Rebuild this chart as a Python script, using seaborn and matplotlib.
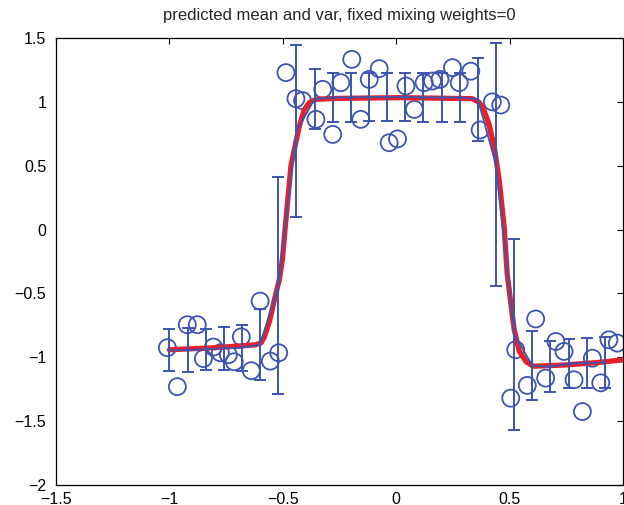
import numpy as np
import pandas as pd
import matplotlib
matplotlib.use("Agg")
import matplotlib.pyplot as plt
import seaborn as sns

# Training observations
obs_x = [-1.009, -0.965, -0.921, -0.877, -0.850, -0.806, -0.775, -0.740, -0.714,
         -0.683, -0.639, -0.600, -0.555, -0.518, -0.486, -0.442, -0.413, -0.354,
         -0.324, -0.280, -0.244, -0.196, -0.156, -0.119, -0.075, -0.031, 0.006,
         0.043, 0.080, 0.123, 0.160, 0.193, 0.248, 0.278, 0.329, 0.370, 0.424,
         0.461, 0.505, 0.527, 0.578, 0.615, 0.659, 0.704, 0.740, 0.784, 0.821,
         0.865, 0.902, 0.938, 0.975]
obs_y = [-0.925, -1.230, -0.745, -0.745, -1.010, -0.920, -0.965, -0.980, -1.035,
         -0.840, -1.105, -0.560, -1.030, -0.965, 1.229, 1.025, 1.010, 0.863,
         1.098, 0.745, 1.150, 1.333, 0.863, 1.176, 1.260, 0.680, 0.710,
         1.124, 0.941, 1.150, 1.163, 1.176, 1.268, 1.150, 1.240, 0.780, 1.000,
         0.975, -1.320, -0.941, -1.220, -0.700, -1.163, -0.876, -0.954, -1.176, -1.425,
         -1.007, -1.200, -0.863, -0.889]

# Smooth fitted curve
fit_x = [-1.00, -0.80, -0.618, -0.595, -0.581, -0.559, -0.537, -0.515, -0.502,
         -0.485, -0.464, -0.449, -0.427, -0.405, -0.383, -0.352, -0.264, 0.013,
         0.335, 0.366, 0.388, 0.410, 0.432, 0.454, 0.476, 0.489, 0.507, 0.520,
         0.542, 0.573, 0.604, 0.749, 0.894, 1.00]
fit_y = [-0.941, -0.925, -0.902, -0.886, -0.839, -0.720, -0.550, -0.390, -0.235,
         0.100, 0.500, 0.630, 0.810, 0.940, 0.995, 1.020, 1.027, 1.033,
         1.025, 0.996, 0.930, 0.820, 0.650, 0.390, 0.020, -0.340, -0.600, -0.780,
         -0.950, -1.035, -1.070, -1.060, -1.040, -1.020]

# Predicted mean and spread at test inputs
test_x = [-1.00, -0.92, -0.84, -0.76, -0.68, -0.60, -0.52, -0.44, -0.36, -0.28,
          -0.20, -0.12, -0.04, 0.04, 0.12, 0.20, 0.28, 0.36, 0.44, 0.52,
          0.60, 0.68, 0.76, 0.84, 0.92]
pred_mean = [-0.945, -0.944, -0.938, -0.930, -0.925, -0.900, -0.440, 0.770, 1.022, 1.035,
             1.035, 1.038, 1.038, 1.038, 1.036, 1.035, 1.035, 1.020, 0.507, -0.820,
             -1.065, -1.075, -1.050, -1.045, -1.040]
pred_err = [0.163, 0.173, 0.160, 0.167, 0.180, 0.280, 0.850, 0.675, 0.238, 0.190,
            0.190, 0.190, 0.190, 0.190, 0.190, 0.190, 0.190, 0.327, 0.950, 0.750,
            0.270, 0.200, 0.190, 0.196, 0.200]

x_ticks = [-1.5, -1, -0.5, 0, 0.5, 1]
y_ticks = [-2, -1.5, -1, -0.5, 0, 0.5, 1, 1.5]
x_labels = ["\u22121.5", "\u22121", "\u22120.5", "0", "0.5", "1"]
y_labels = ["\u22122", "\u22121.5", "\u22121", "\u22120.5", "0", "0.5", "1", "1.5"]

sns.set_style("white")
plt.rcParams["font.family"] = ["Liberation Sans", "DejaVu Sans"]

blue = "#3d55ad"
red = "#e8202a"

fig = plt.figure(figsize=(6.24, 5.05), dpi=100)
ax = fig.add_axes([56 / 624, 1 - 485 / 505, (623 - 56) / 624, (485 - 38) / 505])

obs = pd.DataFrame({"x": obs_x, "y": obs_y})
fit = pd.DataFrame({"x": fit_x, "y": fit_y})
pred = pd.DataFrame({"x": test_x, "y": pred_mean})

sns.scatterplot(data=obs, x="x", y="y", ax=ax, marker="o", s=150,
                facecolor="none", edgecolor=blue, linewidth=1.3, zorder=2)
sns.lineplot(data=fit, x="x", y="y", ax=ax, color=red, linewidth=3.8,
             sort=False, estimator=None, zorder=3)
ax.errorbar(test_x, pred_mean, yerr=pred_err, fmt="none", ecolor=blue,
            elinewidth=1.4, capsize=4.3, capthick=1.4, zorder=4)
sns.lineplot(data=pred, x="x", y="y", ax=ax, color=blue, linewidth=1.3,
             sort=False, estimator=None, zorder=5)

ax.set_xlim(-1.5, 1)
ax.set_ylim(-2, 1.5)
ax.set_xticks(x_ticks)
ax.set_xticklabels(x_labels)
ax.set_yticks(y_ticks)
ax.set_yticklabels(y_labels)
ax.set_xlabel("")
ax.set_ylabel("")
ax.tick_params(direction="in", length=4.3, width=0.8, colors="black",
               labelsize=11.5, top=True, right=True)
ax.tick_params(axis="y", pad=7)
ax.tick_params(axis="x", pad=5)
for sp in ax.spines.values():
    sp.set_visible(True)
    sp.set_color("black")
    sp.set_linewidth(0.9)

ax.set_title("predicted mean and var, fixed mixing weights=0", fontsize=12, pad=13)

fig.savefig("out.png", dpi=100)
